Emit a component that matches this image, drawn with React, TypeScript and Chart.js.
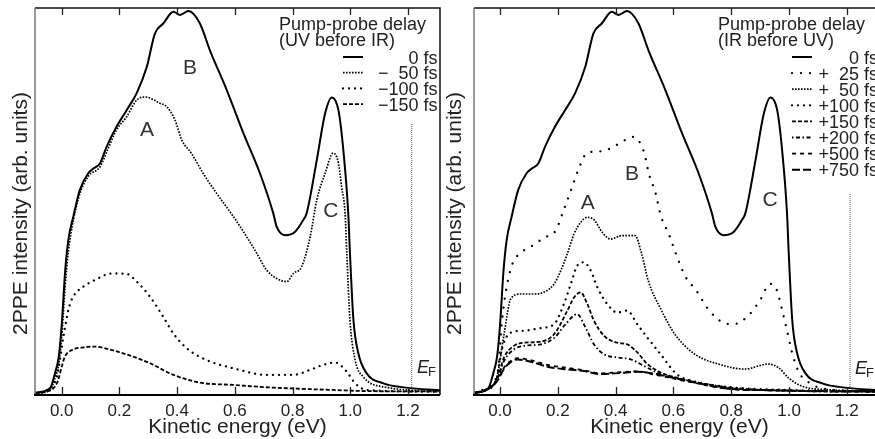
import React, { useEffect, useRef } from 'react';
import { Chart, registerables } from 'chart.js';

Chart.register(...registerables);

const FONT = '"Liberation Sans", Arial, Helvetica, sans-serif';
const INK = '#222';

// ---------- shared ----------
const tickValues = [0, 0.2, 0.4, 0.6, 0.8, 1.0, 1.2];

// 0 fs (both panels)
const e0 = [-0.092, -0.04, -0.023, -0.01, 0.0, 0.012, 0.023, 0.04, 0.063, 0.092, 0.11, 0.133, 0.156, 0.19, 0.225, 0.26, 0.295, 0.323, 0.352, 0.387, 0.41, 0.439, 0.479, 0.514, 0.572, 0.63, 0.687, 0.733, 0.745, 0.774, 0.809, 0.837, 0.849, 0.884, 0.913, 0.936, 0.959, 0.976, 0.993, 0.999, 1.011, 1.028, 1.057, 1.115, 1.172, 1.34];
const i0 = [0.6, 1.8, 5.7, 10, 18, 32, 40, 46, 53, 57.3, 58.5, 59.9, 64.2, 69.3, 73.6, 78, 84.8, 93.4, 96, 99, 98.2, 99.2, 96, 89, 78.8, 67.6, 57.3, 47, 43.5, 41.3, 42.2, 45.2, 47, 60.7, 72.8, 76.9, 73.6, 63.3, 47, 36.6, 19.4, 10.8, 5.6, 3, 2.1, 1.1];

// ---------- left panel: UV before IR ----------
const eM50 = [-0.092, -0.04, -0.023, -0.01, 0.0, 0.012, 0.023, 0.04, 0.063, 0.092, 0.133, 0.16, 0.19, 0.225, 0.26, 0.29, 0.34, 0.364, 0.393, 0.416, 0.45, 0.49, 0.537, 0.595, 0.641, 0.676, 0.71, 0.745, 0.78, 0.803, 0.832, 0.861, 0.884, 0.913, 0.941, 0.959, 0.97, 0.982, 0.988, 0.999, 1.017, 1.045, 1.115, 1.34];
const iM50 = [0.4, 1.3, 4.5, 8, 15, 28, 37, 45, 52, 56.5, 59, 63.5, 68.5, 71.9, 76.2, 77, 75.4, 74.5, 71, 65.9, 62.4, 57.3, 52.1, 46.1, 40.9, 36.6, 32.3, 30.1, 29.3, 31.4, 33.2, 40.9, 50.4, 57.3, 62.5, 59.9, 53.8, 47, 36.6, 19.4, 9, 4.7, 2.1, 0.9];

const eM100 = [-0.092, -0.064, -0.017, 0.006, 0.023, 0.04, 0.075, 0.115, 0.173, 0.225, 0.26, 0.306, 0.352, 0.387, 0.433, 0.503, 0.595, 0.71, 0.803, 0.861, 0.907, 0.947, 0.988, 1.017, 1.057, 1.34];
const iM100 = [0.5, 0.9, 4.7, 15, 22, 25.4, 28, 29.7, 31.4, 31.3, 29.3, 25.4, 20.2, 15.9, 12.1, 9, 6.9, 5.2, 5.2, 6.5, 7.8, 8.4, 6.0, 3, 1.3, 0.8];

const eM150 = [-0.092, -0.064, -0.017, 0.011, 0.035, 0.075, 0.115, 0.179, 0.248, 0.306, 0.387, 0.479, 0.595, 0.71, 0.83, 0.94, 1.06, 1.34];
const iM150 = [0.5, 0.7, 3, 9.9, 11.6, 12.3, 12.5, 11.5, 9.9, 8.2, 5.2, 3.2, 2.6, 2.0, 1.6, 1.3, 1.0, 0.9];

// ---------- right panel: IR before UV ----------
const eP25 = [-0.09, -0.055, -0.009, 0.008, 0.025, 0.043, 0.06, 0.112, 0.152, 0.193, 0.219, 0.245, 0.27, 0.302, 0.354, 0.406, 0.461, 0.498, 0.515, 0.539, 0.556, 0.585, 0.611, 0.64, 0.68, 0.72, 0.772, 0.807, 0.859, 0.899, 0.934, 0.955, 0.974, 0.992, 1.009, 1.032, 1.078, 1.13, 1.34];
const iP25 = [0.5, 1.5, 5.4, 20, 28.7, 33.9, 36, 38.6, 40.6, 42.5, 47.5, 52.8, 58, 62.6, 63, 64.7, 66.7, 62.8, 57.2, 52, 46.4, 41.4, 36, 30.8, 26.9, 22.2, 18.7, 18.3, 20.5, 24.4, 28.7, 27.6, 22.6, 17, 11.4, 6.2, 2.8, 1.5, 0.9];

const eP50 = [-0.09, -0.05, -0.01, 0.014, 0.037, 0.072, 0.118, 0.158, 0.187, 0.21, 0.233, 0.256, 0.279, 0.302, 0.325, 0.354, 0.383, 0.423, 0.467, 0.49, 0.513, 0.559, 0.605, 0.675, 0.755, 0.847, 0.928, 0.963, 0.997, 1.044, 1.15, 1.34];
const iP50 = [0.5, 1.4, 5, 15.7, 24.8, 26.1, 26.1, 26.8, 28.7, 32.1, 36.5, 41.6, 44.6, 45.9, 45.3, 42, 40.3, 41.2, 41.2, 36.5, 29.5, 21.8, 15.7, 10.5, 8, 6.7, 8, 7.1, 4.5, 2.3, 1.3, 0.9];

const eP100 = [-0.09, -0.05, -0.01, 0.002, 0.037, 0.083, 0.141, 0.187, 0.221, 0.245, 0.267, 0.29, 0.314, 0.337, 0.371, 0.406, 0.44, 0.475, 0.51, 0.556, 0.611, 0.669, 0.8, 1.0, 1.34];
const iP100 = [0.5, 1.3, 4.5, 10.5, 16.1, 16.6, 17.3, 18.3, 23.5, 28.7, 33.4, 34.3, 32.1, 27.8, 23.5, 21.3, 21.8, 18.3, 14.8, 10.5, 5.4, 3.6, 2, 1.3, 0.9];

const eP150 = [-0.09, -0.05, -0.01, 0.014, 0.048, 0.083, 0.141, 0.187, 0.233, 0.256, 0.279, 0.302, 0.325, 0.36, 0.406, 0.44, 0.475, 0.51, 0.556, 0.611, 0.784, 1.0, 1.34];
const iP150 = [0.5, 1.2, 4, 9.7, 12.7, 13.5, 13.8, 15.7, 21.8, 25.2, 26.5, 23.5, 19.2, 15.3, 13.5, 13.1, 11, 8, 5.8, 4.5, 1.9, 1.1, 0.8];

const eP200 = [-0.09, -0.05, -0.01, 0.014, 0.048, 0.083, 0.141, 0.187, 0.227, 0.267, 0.296, 0.325, 0.36, 0.406, 0.452, 0.498, 0.556, 0.6, 0.8, 1.0, 1.34];
const iP200 = [0.5, 1.2, 4, 8.8, 11.8, 12.7, 13.1, 14.7, 18.3, 20.9, 17.4, 13.1, 10.5, 9.7, 9.2, 7.5, 5.4, 4.5, 1.9, 1.1, 0.8];

const eLate = [-0.09, -0.05, -0.01, 0.014, 0.037, 0.06, 0.106, 0.164, 0.233, 0.29, 0.348, 0.417, 0.475, 0.533, 0.59, 0.669, 0.784, 0.95, 1.34];
const iP500 = [0.5, 1.2, 3.8, 7.1, 8.8, 9.5, 9.0, 7.8, 7.0, 6.4, 5.6, 5.9, 6.1, 5.3, 4.4, 3.2, 1.6, 1.2, 0.9];
const iP750 = [0.5, 1.2, 3.6, 6.8, 8.5, 9.2, 8.6, 7.3, 6.6, 6.2, 5.4, 5.7, 6.0, 5.5, 4.6, 3.3, 1.7, 1.2, 0.9];

// Fermi level markers [energy, top intensity]
const efLeft = [1.213, 70];
const efRight = [1.211, 52];

// ---------- line styles ----------
const SOLID = { dash: [], width: 2, cap: 'butt' };
const FINE = { dash: [1.6, 1.4], width: 1.7, cap: 'butt' };
const SPARSE = { dash: [0.01, 6], width: 2.3, cap: 'round' };
const SPARSER = { dash: [0.01, 9], width: 2.3, cap: 'round' };
const DASH = { dash: [4, 2], width: 1.8, cap: 'butt' };
const DASHDOT = { dash: [1.5, 2.5, 4, 2.5], width: 1.8, cap: 'butt' };
const GAPDASH = { dash: [4, 4], width: 1.8, cap: 'butt' };
const LONGDASH = { dash: [8, 3], width: 2, cap: 'butt' };

const leftSeries = [
  { label: '0 fs', e: e0, i: i0, ...SOLID },
  { label: '\u2212\u200750 fs', e: eM50, i: iM50, ...FINE },
  { label: '\u2212100 fs', e: eM100, i: iM100, ...SPARSE },
  { label: '\u2212150 fs', e: eM150, i: iM150, ...DASH },
];

const rightSeries = [
  { label: '0 fs', e: e0, i: i0, ...SOLID },
  { label: '+\u200725 fs', e: eP25, i: iP25, ...SPARSER },
  { label: '+\u200750 fs', e: eP50, i: iP50, ...FINE },
  { label: '+100 fs', e: eP100, i: iP100, ...SPARSE },
  { label: '+150 fs', e: eP150, i: iP150, ...DASH },
  { label: '+200 fs', e: eP200, i: iP200, ...DASHDOT },
  { label: '+500 fs', e: eLate, i: iP500, ...GAPDASH },
  { label: '+750 fs', e: eLate, i: iP750, ...LONGDASH },
];

const leftPanel = {
  width: 442,
  xMin: -0.0925,
  xMax: 1.311,
  yAxisWidth: 35,
  padRight: 2,
  yTitleX: 21,
  series: leftSeries,
  ef: efLeft,
  efLabel: { e: 1.231, i: 5.7 },
  peaks: [
    { t: 'A', e: 0.296, i: 68.5 },
    { t: 'B', e: 0.445, i: 84.5 },
    { t: 'C', e: 0.933, i: 47.5 },
  ],
  legend: { header: ['Pump-probe delay', '(UV before IR)'], headerX: 279, rightX: 437.5, sampleX: 343, rowTop: 57, rowStep: 15.7 },
};

const rightPanel = {
  width: 445,
  xMin: -0.09,
  xMax: 1.332,
  yAxisWidth: 32,
  padRight: 2,
  yTitleX: 13.5,
  series: rightSeries,
  ef: efRight,
  efLabel: { e: 1.228, i: 5.4 },
  peaks: [
    { t: 'A', e: 0.304, i: 49.5 },
    { t: 'B', e: 0.457, i: 57 },
    { t: 'C', e: 0.934, i: 50.3 },
  ],
  legend: { header: ['Pump-probe delay', '(IR before UV)'], headerX: 276, rightX: 436, sampleX: 350, rowTop: 57, rowStep: 16.1 },
};

const panelPlugin = {
  id: 'panel',
  afterDatasetsDraw(chart: any, _args: any, opts: any) {
    const { ctx, chartArea: a, scales } = chart;
    const xs = scales.x;
    const ys = scales.y;
    ctx.save();

    // frame
    ctx.setLineDash([]);
    ctx.lineCap = 'butt';
    ctx.strokeStyle = '#111';
    ctx.lineWidth = 1.5;
    ctx.beginPath();
    ctx.moveTo(a.left, a.top);
    ctx.lineTo(a.right, a.top);
    ctx.lineTo(a.right, a.bottom);
    ctx.stroke();
    ctx.strokeStyle = '#777';
    ctx.beginPath();
    ctx.moveTo(a.left, a.top);
    ctx.lineTo(a.left, a.bottom);
    ctx.stroke();
    ctx.strokeStyle = '#000';
    ctx.lineWidth = 2;
    ctx.beginPath();
    ctx.moveTo(a.left - 1, a.bottom);
    ctx.lineTo(a.right, a.bottom);
    ctx.stroke();

    // inward ticks top & bottom
    ctx.lineWidth = 1.3;
    ctx.strokeStyle = '#222';
    for (const v of tickValues) {
      const x = Math.round(xs.getPixelForValue(v)) + 0.5;
      ctx.beginPath();
      ctx.moveTo(x, a.bottom);
      ctx.lineTo(x, a.bottom - 8);
      ctx.moveTo(x, a.top);
      ctx.lineTo(x, a.top + 7);
      ctx.stroke();
    }

    // y-axis title
    ctx.save();
    ctx.translate(opts.yTitleX, 213.5);
    ctx.rotate(-Math.PI / 2);
    ctx.font = `21px ${FONT}`;
    ctx.fillStyle = INK;
    ctx.textAlign = 'center';
    ctx.textBaseline = 'middle';
    ctx.fillText('2PPE intensity (arb. units)', 0, 0);
    ctx.restore();

    // peak labels
    ctx.fillStyle = '#333';
    ctx.font = `21px ${FONT}`;
    ctx.textAlign = 'center';
    ctx.textBaseline = 'middle';
    for (const p of opts.peaks) {
      ctx.fillText(p.t, xs.getPixelForValue(p.e), ys.getPixelForValue(p.i));
    }

    // E_F label
    const ex = xs.getPixelForValue(opts.efLabel.e);
    const ey = ys.getPixelForValue(opts.efLabel.i);
    ctx.fillStyle = INK;
    ctx.textAlign = 'left';
    ctx.textBaseline = 'alphabetic';
    ctx.font = `italic 18px ${FONT}`;
    ctx.fillText('E', ex, ey);
    const w = ctx.measureText('E').width;
    ctx.font = `13px ${FONT}`;
    ctx.fillText('F', ex + w - 1, ey + 3);

    // legend
    const L = opts.legend;
    ctx.font = `18px ${FONT}`;
    ctx.fillStyle = INK;
    ctx.textAlign = 'left';
    ctx.fillText(L.header[0], L.headerX, 30);
    ctx.fillText(L.header[1], L.headerX, 45.5);
    ctx.textAlign = 'right';
    opts.series.forEach((s: any, k: number) => {
      const y = L.rowTop + k * L.rowStep;
      ctx.fillText(s.label, L.rightX, y + 6.5);
      ctx.save();
      ctx.strokeStyle = '#000';
      ctx.lineWidth = s.width;
      ctx.lineCap = s.cap;
      ctx.setLineDash(s.dash);
      ctx.beginPath();
      ctx.moveTo(L.sampleX, y);
      ctx.lineTo(L.sampleX + 20, y);
      ctx.stroke();
      ctx.restore();
    });

    ctx.restore();
  },
};

function buildConfig(cfg: any) {
  const datasets: any[] = cfg.series.map((s: any) => ({
    label: s.label,
    data: s.e.map((x: number, k: number) => ({ x, y: s.i[k] })),
    borderColor: '#000',
    borderWidth: s.width,
    borderDash: s.dash,
    borderCapStyle: s.cap,
    borderJoinStyle: 'round',
    pointRadius: 0,
    cubicInterpolationMode: 'monotone',
    fill: false,
  }));
  datasets.push({
    label: 'EF',
    data: [
      { x: cfg.ef[0], y: 0 },
      { x: cfg.ef[0], y: cfg.ef[1] },
    ],
    borderColor: '#555',
    borderWidth: 1,
    borderDash: [1, 1],
    pointRadius: 0,
    fill: false,
  });

  return {
    type: 'line',
    data: { datasets },
    options: {
      responsive: false,
      animation: false,
      devicePixelRatio: 1,
      events: [],
      layout: { padding: { left: 0, top: 8, right: cfg.padRight, bottom: 0 } },
      plugins: {
        legend: { display: false },
        tooltip: { enabled: false },
        panel: { peaks: cfg.peaks, efLabel: cfg.efLabel, legend: cfg.legend, series: cfg.series, yTitleX: cfg.yTitleX },
      },
      scales: {
        x: {
          type: 'linear',
          min: cfg.xMin,
          max: cfg.xMax,
          grid: { display: false, drawTicks: false },
          border: { display: false },
          afterBuildTicks: (s: any) => {
            s.ticks = tickValues.map((v) => ({ value: v }));
          },
          afterFit: (s: any) => {
            s.height = 44;
          },
          ticks: {
            color: INK,
            font: { family: FONT, size: 17 },
            padding: 6,
            maxRotation: 0,
            autoSkip: false,
            callback: (v: any) => Number(v).toFixed(1),
          },
          title: {
            display: true,
            text: 'Kinetic energy (eV)',
            color: INK,
            font: { family: FONT, size: 21 },
            padding: { top: 0, bottom: -1 },
          },
        },
        y: {
          type: 'linear',
          min: 0,
          max: 100,
          grid: { display: false, drawTicks: false },
          border: { display: false },
          ticks: { display: false },
          afterFit: (s: any) => {
            s.width = cfg.yAxisWidth;
          },
          title: { display: false },
        },
      },
    },
    plugins: [panelPlugin],
  };
}

function Panel({ cfg }: { cfg: any }) {
  const ref = useRef<HTMLCanvasElement | null>(null);
  useEffect(() => {
    if (!ref.current) return;
    const chart = new Chart(ref.current, buildConfig(cfg) as any);
    return () => chart.destroy();
  }, [cfg]);
  return (
    <canvas
      ref={ref}
      width={cfg.width}
      height={439}
      style={{ display: 'block', width: cfg.width, height: 439 }}
    />
  );
}

export default function App() {
  return (
    <div
      style={{
        position: 'absolute',
        left: 0,
        top: 0,
        width: 875,
        height: 439,
        overflow: 'hidden',
        background: '#fff',
      }}
    >
      <div style={{ position: 'absolute', left: 0, top: 0, width: 442, height: 439, overflow: 'hidden' }}>
        <Panel cfg={leftPanel} />
      </div>
      <div style={{ position: 'absolute', left: 442, top: 0, width: 433, height: 439, overflow: 'hidden' }}>
        <Panel cfg={rightPanel} />
      </div>
    </div>
  );
}
